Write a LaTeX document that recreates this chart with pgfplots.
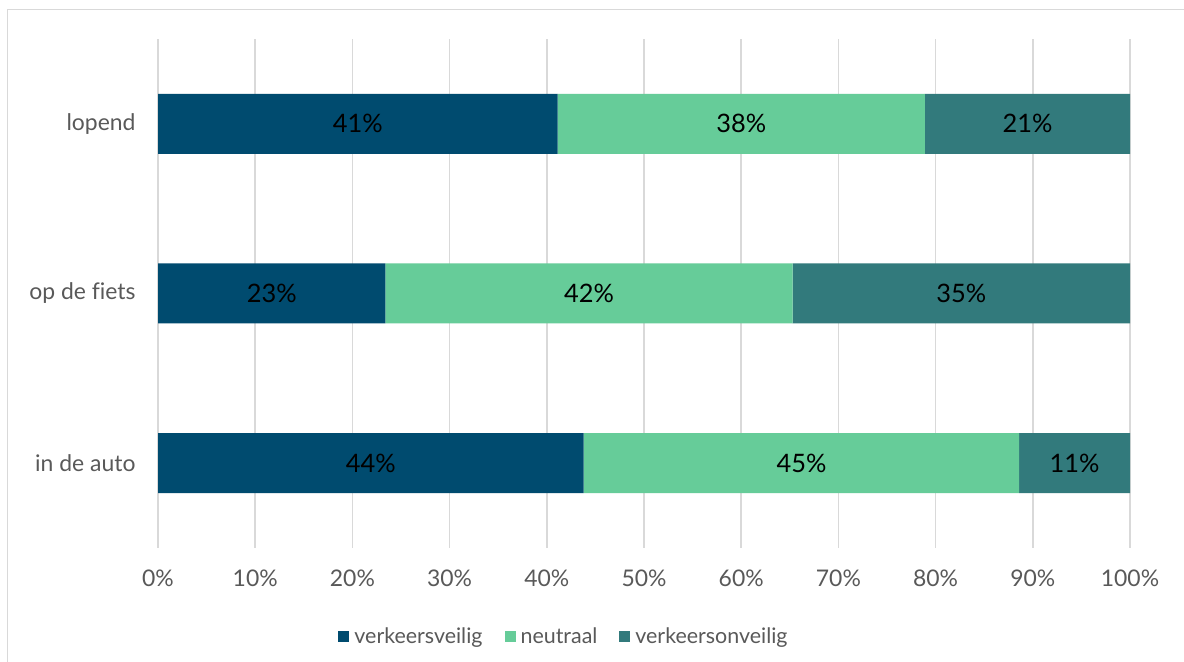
\documentclass[border=0pt]{standalone}
\usepackage{pgfplots}
\pgfplotsset{compat=1.18}
\usepackage{pgfplotstable}
\usepackage{fontspec}
\setmainfont{Lato}[Ligatures=NoCommon]
\definecolor{cveilig}{HTML}{004B6F}
\definecolor{cneutraal}{HTML}{66CC99}
\definecolor{conveilig}{HTML}{327A7C}
\definecolor{ctxt}{HTML}{595959}
\definecolor{cgrid}{HTML}{D9D9D9}
% y: 0 = in de auto, 1 = op de fiets, 2 = lopend
\pgfplotstableread{
y veilig neutraal onveilig
0 43.8 44.8 11.4
1 23.4 41.9 34.7
2 41.1 37.8 21.1
}\data
% label positions (segment midpoints)
\pgfplotstableread{
x y label
21.9 0 44\%
66.2 0 45\%
94.3 0 11\%
11.7 1 23\%
44.35 1 42\%
82.65 1 35\%
20.55 2 41\%
60.0 2 38\%
89.45 2 21\%
}\labels
\begin{document}
\begin{tikzpicture}[x=1bp,y=1bp]
\useasboundingbox (0,0) rectangle (1184,662);
\fill[white] (0,0) rectangle (1184,662);
\draw[cgrid, line width=1.2bp] (7.5,-5) -- (7.5,652.5) -- (1190,652.5);
\pgfplotsset{
  mybase/.style={
    scale only axis,
    width=972bp, height=509bp,
    at={(158bp,114bp)}, anchor=south west,
    xmin=0, xmax=100, ymin=-0.5, ymax=2.5,
  }
}
\begin{axis}[
  mybase,
  xbar stacked,
  bar width=60bp,
  axis line style={draw=none},
  major tick style={draw=none},
  xtick={0,10,...,100},
  xticklabel={\pgfmathprintnumber{\tick}\%},
  ytick={0,1,2},
  yticklabels={in de auto, op de fiets, lopend},
  xmajorgrids,
  major grid style={cgrid, line width=1.6bp},
  tick label style={font=\fontsize{23}{27}\selectfont, text=ctxt},
  /pgf/number format/assume math mode=true,
  xticklabel style={yshift=-18bp},
  yticklabel style={xshift=-19bp},
  legend style={draw=none, at={(0.4177,-0.1729)}, anchor=center,
    font=\fontsize{21.5}{25}\selectfont, text=ctxt,
    /tikz/every odd column/.append style={column sep=3bp},
    /tikz/every even column/.append style={column sep=20bp},
    inner sep=0pt},
  legend columns=3,
  legend image code/.code={\fill[#1] (0bp,-6bp) rectangle (11bp,5.5bp);},
  legend cell align=left,
]
\addplot[fill=cveilig, draw=none] table[x=veilig, y=y] {\data};
\addlegendentry{verkeersveilig}
\addplot[fill=cneutraal, draw=none] table[x=neutraal, y=y] {\data};
\addlegendentry{neutraal}
\addplot[fill=conveilig, draw=none] table[x=onveilig, y=y] {\data};
\addlegendentry{verkeersonveilig}
\end{axis}
\begin{axis}[
  mybase,
  hide axis,
]
\addplot[only marks, mark=none, nodes near coords, point meta=explicit symbolic,
  every node near coord/.append style={anchor=center, font=\fontsize{25.5}{29}\selectfont, text=black}]
  table[x=x, y=y, meta=label] {\labels};
\end{axis}
\end{tikzpicture}
\end{document}
